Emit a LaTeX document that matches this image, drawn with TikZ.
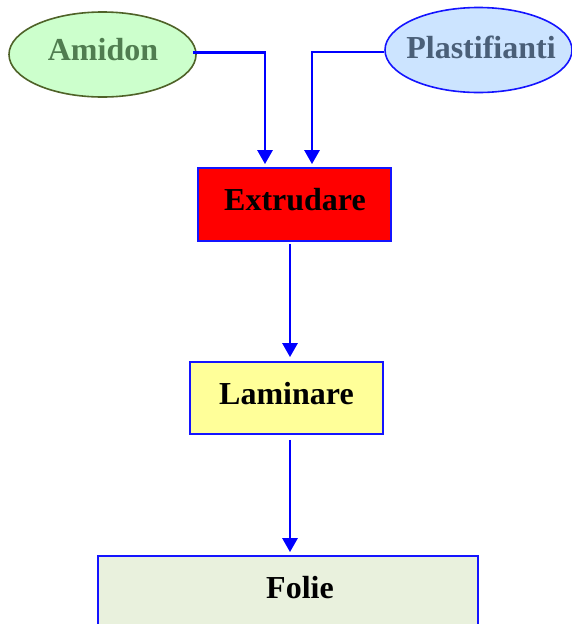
\documentclass[tikz,border=0pt]{standalone}
\usepackage{fontspec}
\setmainfont{Liberation Serif}
\usetikzlibrary{shapes.geometric,arrows.meta}
\definecolor{amfill}{RGB}{204,255,204}
\definecolor{amdraw}{RGB}{79,98,40}
\definecolor{amtext}{RGB}{80,125,80}
\definecolor{plfill}{RGB}{204,228,255}
\definecolor{pltext}{RGB}{74,95,120}
\definecolor{lafill}{RGB}{255,255,153}
\definecolor{fofill}{RGB}{233,241,221}
\definecolor{bblue}{RGB}{20,20,255}
\tikzset{
  lbl/.style={font=\fontsize{32}{37}\selectfont\bfseries, inner sep=0pt},
  oval/.style={ellipse, draw, line width=1.6pt, minimum width=187pt, minimum height=85pt, inner sep=0pt},
  boxx/.style={rectangle, draw=bblue, line width=1.8pt, inner sep=0pt},
  conn/.style={draw=blue, line width=2.8pt, -{Triangle[length=14pt,width=15pt]}}
}
\begin{document}
\begin{tikzpicture}[x=1pt,y=-1pt]
\clip (0,0) rectangle (572,624);
\fill[white] (0,0) rectangle (572,624);
% ellipses
\node[oval, fill=amfill, draw=amdraw] (amidon) at (102.5,54.5) {};
\node[lbl, text=amtext] (amidonT) at (103,49.5) {Amidon};
\node[oval, fill=plfill, draw=bblue] (plast) at (478.5,50) {};
\node[lbl, text=pltext] (plastT) at (481,47) {Plastifianti};
% boxes
\node[boxx, fill=red, minimum width=193pt, minimum height=73pt] (extr) at (294.5,204.5) {};
\node[lbl] (extrT) at (295,199.5) {Extrudare};
\node[boxx, fill=lafill, minimum width=193pt, minimum height=72pt] (lam) at (286.5,398) {};
\node[lbl] (lamT) at (286.5,394) {Laminare};
\node[boxx, fill=fofill, minimum width=380pt, minimum height=120pt] (folie) at (288,616) {};
\node[lbl] (folieT) at (300,588) {Folie};
% connectors
\draw[conn] ([xshift=-4pt,yshift=2pt]amidon.east) -| ([xshift=-29.5pt,yshift=3pt]extr.north);
\draw[conn] ([yshift=-2pt]plast.west) -| ([xshift=17.5pt,yshift=3pt]extr.north);
\draw[conn] ([xshift=-4.5pt,yshift=-2pt]extr.south) -- ([xshift=3.5pt,yshift=4pt]lam.north);
\draw[conn] ([xshift=3.5pt,yshift=-5pt]lam.south) -- ([xshift=2pt,yshift=3pt]folie.north);
\end{tikzpicture}
\end{document}
